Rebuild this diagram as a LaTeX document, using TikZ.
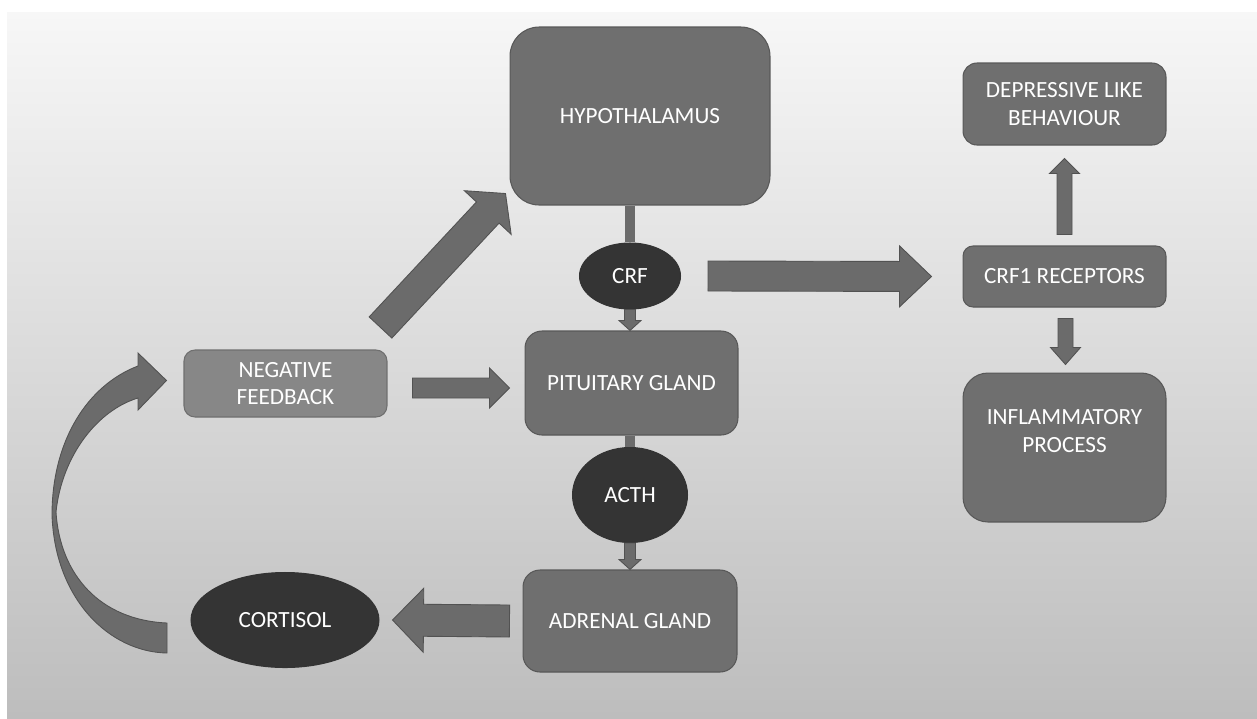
\documentclass[tikz,border=0pt]{standalone}
\usepackage{fontspec}
\setmainfont{Carlito}
\usetikzlibrary{calc}
\usetikzlibrary{positioning}
\usetikzlibrary{shapes.geometric}

\definecolor{boxgray}{HTML}{6F6F6F}
\definecolor{boxedge}{HTML}{585858}
\definecolor{feedgray}{HTML}{878787}
\definecolor{ovaldark}{HTML}{343434}
\definecolor{arrowgray}{HTML}{6B6B6B}
\definecolor{arrowedge}{HTML}{525252}
\definecolor{bgtop}{HTML}{F7F7F7}
\definecolor{bgbottom}{HTML}{BDBDBD}

\tikzset{
  boxtext/.style={text=white, align=center, font=\fontsize{13.2}{15.8}\selectfont},
  box/.style={boxtext, draw=boxedge, fill=boxgray, line width=0.6pt, inner sep=0pt},
  feedbox/.style={box, fill=feedgray, draw=boxgray},
  oval/.style={boxtext, ellipse, draw=black!80, fill=ovaldark, line width=0.6pt, inner sep=0pt},
  arrowbody/.style={fill=arrowgray, draw=arrowedge, line width=0.5pt},
  stem/.style={draw=arrowgray, line width=0.21cm},
}

% block arrow: start, end, half shaft, half head, head length
\newcommand{\blockarrow}[5]{%
  \coordinate (ba-s) at (#1);
  \coordinate (ba-e) at (#2);
  \coordinate (ba-h) at ($(ba-e)!#5!(ba-s)$);
  \filldraw[arrowbody]
    ($(ba-s)!#3!90:(ba-e)$) -- ($(ba-h)!#3!-90:(ba-s)$) -- ($(ba-h)!#4!-90:(ba-s)$) -- (ba-e)
    -- ($(ba-h)!#4!90:(ba-s)$) -- ($(ba-h)!#3!90:(ba-s)$) -- ($(ba-s)!#3!-90:(ba-e)$) -- cycle;
}

\begin{document}
\begin{tikzpicture}[x=0.02cm, y=-0.02cm]
    \useasboundingbox (0,0) rectangle (1257,718);
    \shade[top color=bgtop, bottom color=bgbottom] (7,12) rectangle (1257,718);

    % axis in the middle
    \node[box, minimum width=5.2cm, minimum height=3.56cm, rounded corners=0.58cm] (hyp) at (640,116) {HYPOTHALAMUS};
    \node[oval, minimum width=2.02cm, minimum height=1.32cm] (crf) at (630,276) {CRF};
    \node[box, minimum width=4.26cm, minimum height=2.08cm, rounded corners=0.34cm] (pit) at (631.5,383) {PITUITARY GLAND};
    \node[oval, minimum width=2.3cm, minimum height=1.9cm] (acth) at (630,495) {ACTH};
    \node[box, minimum width=4.28cm, minimum height=2.04cm, rounded corners=0.34cm] (adr) at (630,621) {ADRENAL GLAND};

    % feedback loop
    \node[oval, minimum width=3.76cm, minimum height=1.9cm] (cort) at (285,620) {CORTISOL};
    \node[feedbox, minimum width=4.06cm, minimum height=1.34cm, rounded corners=0.22cm] (nf) at (285.5,383.5) {NEGATIVE\\FEEDBACK};

    % right column
    \node[box, minimum width=4.06cm, minimum height=1.22cm, rounded corners=0.2cm] (crf1) at (1064.5,276.5) {CRF1 RECEPTORS};
    \node[box, minimum width=4.06cm, minimum height=1.64cm, rounded corners=0.28cm] (dep) at (1064.5,104) {DEPRESSIVE LIKE\\BEHAVIOUR};
    \node[box, minimum width=4.06cm, minimum height=2.98cm, rounded corners=0.5cm] (infl) at (1064.5,447.5) {};
    \node[boxtext] (infltext) at ($(infl.center)+(0,-16.5)$) {INFLAMMATORY\\PROCESS};

    % stems
    \draw[stem] (crf.north |- hyp.south) -- (crf.north);
    \draw[stem] (acth.north |- pit.south) -- (acth.north);

    % arrows
    \blockarrow{crf.south}{crf.south |- pit.north}{0.11cm}{0.22cm}{0.2cm}
    \blockarrow{acth.south}{acth.south |- adr.north}{0.11cm}{0.22cm}{0.2cm}
    \blockarrow{$(adr.west)+(-13,0)$}{$(cort.east)+(13,0)$}{0.32cm}{0.64cm}{0.62cm}
    \blockarrow{$(crf.east)+(27,0)$}{$(crf1.west)+(-31,0)$}{0.3cm}{0.61cm}{0.64cm}
    \blockarrow{$(nf.east)+(25,4.5)$}{$(pit.west)+(-15,5)$}{0.2cm}{0.4cm}{0.4cm}
    \blockarrow{$(nf.north east)+(-7,-22)$}{$(hyp.south west)+(-4,-12)$}{0.31cm}{0.64cm}{0.52cm}
    \blockarrow{$(crf1.north)+(0,-11)$}{$(dep.south)+(0,13)$}{0.15cm}{0.3cm}{0.3cm}
    \blockarrow{$(crf1.south)+(1,11)$}{$(infl.north)+(1,-8)$}{0.15cm}{0.3cm}{0.34cm}

    % curved arrow from cortisol back to feedback
    \filldraw[arrowbody] (167,653) .. controls (110,652) and (55,600) .. (52,515)
        .. controls (52,440) and (88,385) .. (138,366) -- (138,353) -- ($(nf.west)+(-17,-3)$)
        -- (138,410) -- (138,398) .. controls (98,410) and (62,455) .. (56,512)
        .. controls (60,575) and (100,620) .. (167,623) -- cycle;
\end{tikzpicture}
\end{document}
